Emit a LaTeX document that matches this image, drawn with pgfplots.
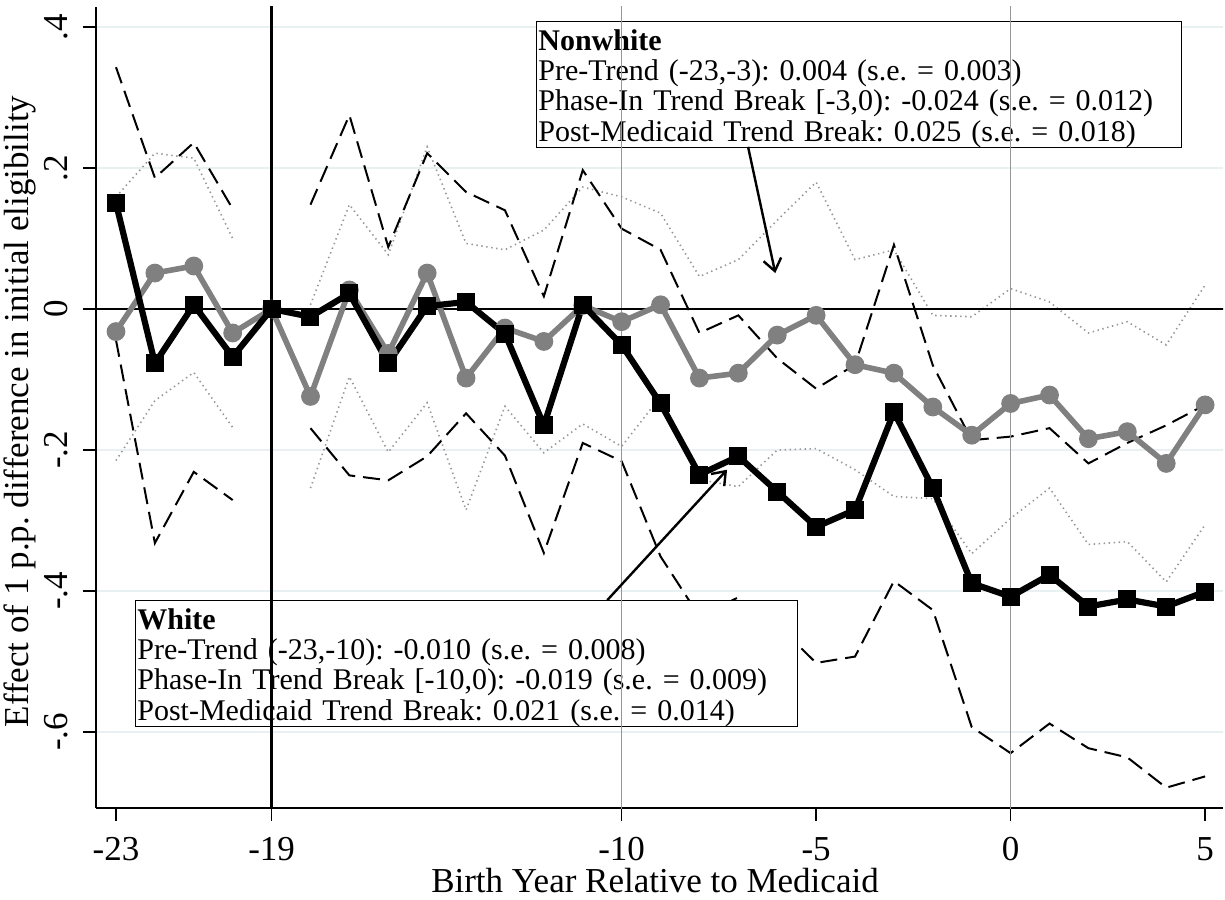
\documentclass[border=0pt]{standalone}
\usepackage{fontspec}
\setmainfont{Liberation Serif}
\usepackage{pgfplots}
\pgfplotsset{compat=1.18}
\usepackage{pgfplotstable}
\usetikzlibrary{arrows.meta}
\frenchspacing

\definecolor{cigray}{RGB}{150,150,150}
\definecolor{nwgray}{RGB}{128,128,128}
\definecolor{gridc}{RGB}{232,240,242}
\definecolor{vgray}{RGB}{150,150,150}

% x = birth year relative to Medicaid
% b/bu/bl = white estimate and CI, g/gu/gl = nonwhite estimate and CI
\pgfplotstableread{
x    b       bu      bl      g       gu      gl
-23  0.150   0.343  -0.044  -0.032   0.159  -0.215
-22 -0.077   0.186  -0.332   0.051   0.221  -0.130
-21  0.006   0.236  -0.231   0.061   0.214  -0.090
-20 -0.068   0.142  -0.271  -0.034   0.100  -0.168
-19  0.000   nan     nan     0.000   nan     nan
-18 -0.011   0.148  -0.169  -0.124   0.006  -0.254
-17  0.022   0.275  -0.236   0.027   0.148  -0.096
-16 -0.077   0.088  -0.243  -0.063   0.077  -0.203
-15  0.004   0.221  -0.209   0.051   0.230  -0.133
-14  0.010   0.166  -0.148  -0.098   0.093  -0.285
-13 -0.035   0.140  -0.208  -0.027   0.084  -0.138
-12 -0.165   0.018  -0.346  -0.046   0.112  -0.204
-11  0.006   0.197  -0.190   0.005   0.173  -0.163
-10 -0.051   0.114  -0.216  -0.018   0.159  -0.195
-9  -0.134   0.084  -0.351   0.006   0.136  -0.124
-8  -0.235  -0.034  -0.436  -0.098   0.046  -0.242
-7  -0.209  -0.009  -0.409  -0.091   0.070  -0.252
-6  -0.259  -0.070  -0.448  -0.037   0.126  -0.200
-5  -0.309  -0.113  -0.502  -0.009   0.180  -0.198
-4  -0.285  -0.079  -0.493  -0.079   0.070  -0.228
-3  -0.146   0.091  -0.386  -0.091   0.084  -0.266
-2  -0.254  -0.080  -0.427  -0.139  -0.009  -0.269
-1  -0.389  -0.186  -0.593  -0.179  -0.011  -0.347
0   -0.408  -0.181  -0.630  -0.134   0.029  -0.297
1   -0.377  -0.169  -0.588  -0.122   0.010  -0.254
2   -0.422  -0.219  -0.623  -0.184  -0.034  -0.334
3   -0.412  -0.190  -0.636  -0.174  -0.018  -0.330
4   -0.422  -0.165  -0.679  -0.219  -0.051  -0.387
5   -0.401  -0.136  -0.663  -0.136   0.034  -0.306
}\est

\newcommand{\tickfont}{\fontsize{17.5}{20}\selectfont}
\newcommand{\annfont}{\fontsize{15}{15.1}\selectfont}

\begin{document}
\begin{tikzpicture}
\begin{axis}[
  scale only axis,
  width=563.5pt, height=400.5pt,
  xmin=-23.514, xmax=5.46,
  ymin=-0.7078, ymax=0.4284,
  axis lines*=left,
  axis line style={black, line width=0.75pt},
  tick align=outside,
  major tick length=6.5pt,
  tick style={black, line width=0.7pt},
  xtick={-23,-19,-10,-5,0,5},
  xticklabels={-23,-19,-10,-5,0,5},
  ytick={-0.6,-0.4,-0.2,0,0.2,0.4},
  yticklabels={-.6,-.4,-.2,0,.2,.4},
  minor tick num=0,
  ymajorgrids,
  major grid style={gridc, line width=1pt},
  ticklabel style={font=\tickfont, inner sep=0pt},
  xticklabel style={anchor=north},
  yticklabel style={rotate=90, anchor=south},
  xticklabel shift=8pt,
  yticklabel shift=7.5pt,
  xlabel={Birth Year Relative to Medicaid},
  ylabel={Effect of 1 p.p. difference in initial eligibility},
  label style={font=\tickfont, inner sep=0pt},
  xlabel style={at={(axis description cs:0.496,-0.1061)}, anchor=base},
  ylabel style={at={(axis description cs:-0.0603,0.495)}, anchor=base, rotate=0},
  unbounded coords=jump,
  clip=true,
]
\coordinate (sw) at (rel axis cs:0,0);
\coordinate (ne) at (rel axis cs:1,1);

% nonwhite confidence band (dotted)
\addplot[cigray, line width=0.8pt, dash pattern=on 0.7pt off 1.8pt] table[x=x,y=gu] {\est};
\addplot[cigray, line width=0.8pt, dash pattern=on 0.7pt off 1.8pt] table[x=x,y=gl] {\est};
% white confidence band (dashed)
\addplot[black, line width=1pt, dash pattern=on 8.5pt off 4pt] table[x=x,y=bu] {\est};
\addplot[black, line width=1pt, dash pattern=on 8.5pt off 4pt] table[x=x,y=bl] {\est};

% text boxes
\node[draw=black, line width=0.7pt, fill=white, anchor=north west,
      inner xsep=0.8pt, inner ysep=0pt, text width=320.9pt, align=left, font=\annfont]
  at (axis cs:-12.20,0.4085)
  {\rule{0pt}{14.4pt}\textbf{Nonwhite}\\
   Pre-Trend (-23,-3): 0.004 (s.e. = 0.003)\\
   Phase-In Trend Break [-3,0): -0.024 (s.e. = 0.012)\\
   Post-Medicaid Trend Break: 0.025 (s.e. = 0.018)\rule[-2.8pt]{0pt}{2.8pt}};
\node[draw=black, line width=0.7pt, fill=white, anchor=north west,
      inner xsep=0.8pt, inner ysep=0pt, text width=329.4pt, align=left, font=\annfont]
  at (axis cs:-22.51,-0.4128)
  {\rule{0pt}{14.4pt}\textbf{White}\\
   Pre-Trend (-23,-10): -0.010 (s.e. = 0.008)\\
   Phase-In Trend Break [-10,0): -0.019 (s.e. = 0.009)\\
   Post-Medicaid Trend Break: 0.021 (s.e. = 0.014)\rule[-2.8pt]{0pt}{2.8pt}};

% reference lines
\addplot[vgray, line width=0.7pt] coordinates {(-10,-1) (-10,1)};
\addplot[vgray, line width=0.7pt] coordinates {(0,-1) (0,1)};
\addplot[black, line width=1.3pt] coordinates {(-19,-1) (-19,1)};
\addplot[black, line width=1.1pt] coordinates {(-24,0) (6,0)};

% point estimates
\addplot[nwgray, line width=2.8pt, mark=*, mark size=4.4pt,
         mark options={solid, fill=nwgray, draw=nwgray, line width=0.6pt}]
  table[x=x,y=g] {\est};
\addplot[black, line width=3.1pt, mark=square*, mark size=4.2pt,
         mark options={solid, fill=black, draw=black, line width=0.6pt}]
  table[x=x,y=b] {\est};

% arrows
\draw[black, line width=1.2pt, -{Straight Barb[length=6pt, width=9pt]}]
  (axis cs:-6.75,0.230) -- (axis cs:-6.05,0.051);
\draw[black, line width=1.2pt, -{Straight Barb[length=6pt, width=9pt]}]
  (axis cs:-10.37,-0.413) -- (axis cs:-7.29,-0.228);
\end{axis}
\pgfresetboundingbox
\path[use as bounding box] ([shift={(-48pt,-45.5pt)}]sw) rectangle ([shift={(1pt,3.5pt)}]ne);
\end{tikzpicture}
\end{document}
